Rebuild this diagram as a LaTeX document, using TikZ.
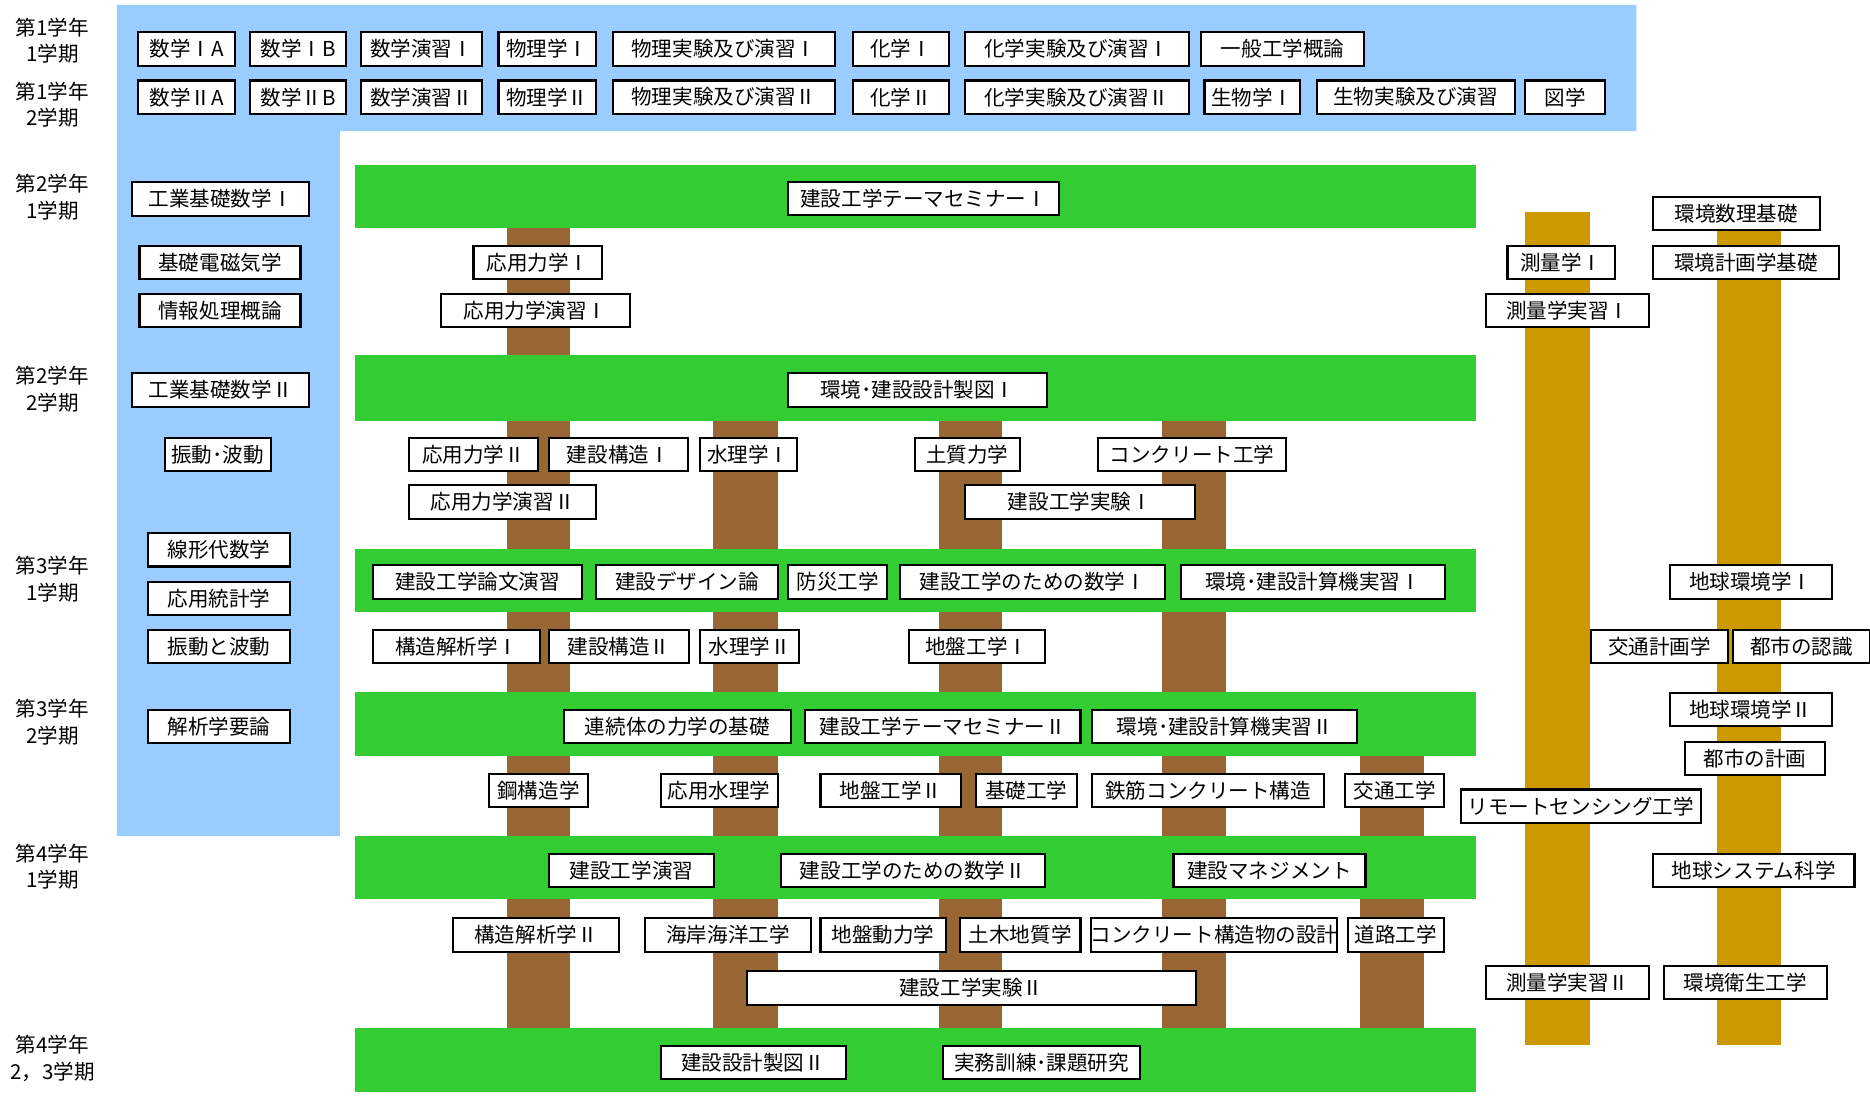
\documentclass[tikz,border=0pt]{standalone}
\usepackage{xcolor}
\usepackage{fontspec}
\newfontfamily\jpfont{Noto Sans CJK JP}
\definecolor{basicblue}{HTML}{99CCFF}
\definecolor{bandgreen}{HTML}{33CC33}
\definecolor{trunkbrown}{HTML}{996633}
\definecolor{polegold}{HTML}{CC9900}
\begin{document}
\begin{tikzpicture}[x=0.01cm, y=-0.01cm,
	course/.style={draw=black, fill=white, line width=0.5pt, inner sep=0pt, minimum height=0.28cm, font=\jpfont\fontsize{4.9}{5.9}\selectfont},
	boxw/.style={minimum width=#1*0.01cm},
	term/.style={align=center, inner sep=0pt, font=\jpfont\fontsize{4.9}{6.3}\selectfont},
	band/.style={fill=bandgreen},
	trunk/.style={fill=trunkbrown},
	pole/.style={fill=polegold}]
	\useasboundingbox (0,0) rectangle (1568,919);
	\fill[basicblue] (98,4) -- (1372,4) -- (1372,110) -- (285,110) -- (285,701) -- (98,701) -- cycle;
	\fill[trunk] (425,191) rectangle (478,862);
	\fill[trunk] (598,353) rectangle (652,862);
	\fill[trunk] (787,353) rectangle (840,862);
	\fill[trunk] (974,353) rectangle (1028,862);
	\fill[trunk] (1140,634) rectangle (1194,862);
	\fill[pole] (1279,178) rectangle (1333,876);
	\fill[pole] (1440,178) rectangle (1493,876);
	\fill[band] (298,138) rectangle (1238,191);
	\fill[band] (298,298) rectangle (1238,353);
	\fill[band] (298,460) rectangle (1238,513);
	\fill[band] (298,580) rectangle (1238,634);
	\fill[band] (298,701) rectangle (1238,754);
	\fill[band] (298,862) rectangle (1238,916);
	\node[term] (y1t1) at (44,34) {第1学年\\1学期};
	\node[term] (y1t2) at (44,88) {第1学年\\2学期};
	\node[term] (y2t1) at (44,165.5) {第2学年\\1学期};
	\node[term] (y2t2) at (44,326.5) {第2学年\\2学期};
	\node[term] (y3t1) at (44,485.5) {第3学年\\1学期};
	\node[term] (y3t2) at (44,605.5) {第3学年\\2学期};
	\node[term] (y4t1) at (44,726.5) {第4学年\\1学期};
	\node[term] (y4t23) at (44,887.5) {第4学年\\2，3学期};
	\node[course, boxw=81] (sugaku1a) at (156.5,41) {数学ⅠA};
	\node[course, boxw=80] (sugaku1b) at (250,41) {数学ⅠB};
	\node[course, boxw=101] (ensyu1) at (353.5,41) {数学演習Ⅰ};
	\node[course, boxw=82] (butsuri1) at (459,41) {物理学Ⅰ};
	\node[course, boxw=186] (butsurijk1) at (607,41) {物理実験及び演習Ⅰ};
	\node[course, boxw=81] (kagaku1) at (755.5,41) {化学Ⅰ};
	\node[course, boxw=188] (kagakujk1) at (903,41) {化学実験及び演習Ⅰ};
	\node[course, boxw=137] (ippan) at (1075.5,41) {一般工学概論};
	\node[course, boxw=81] (sugaku2a) at (156.5,81.5) {数学ⅡA};
	\node[course, boxw=80] (sugaku2b) at (250,81.5) {数学ⅡB};
	\node[course, boxw=101] (ensyu2) at (353.5,81.5) {数学演習Ⅱ};
	\node[course, boxw=82] (butsuri2) at (459,81.5) {物理学Ⅱ};
	\node[course, boxw=186] (butsurijk2) at (607,81.5) {物理実験及び演習Ⅱ};
	\node[course, boxw=81] (kagaku2) at (755.5,81.5) {化学Ⅱ};
	\node[course, boxw=188] (kagakujk2) at (903,81.5) {化学実験及び演習Ⅱ};
	\node[course, boxw=80] (seibutsu1) at (1050,81.5) {生物学Ⅰ};
	\node[course, boxw=166] (seibutsujk) at (1187,81.5) {生物実験及び演習};
	\node[course, boxw=67] (zugaku) at (1312.5,81.5) {図学};
	\node[course, boxw=148] (kiso1) at (185,167) {工業基礎数学Ⅰ};
	\node[course, boxw=135] (denji) at (184.5,220) {基礎電磁気学};
	\node[course, boxw=135] (joho) at (184.5,260.5) {情報処理概論};
	\node[course, boxw=148] (kiso2) at (185,327) {工業基礎数学Ⅱ};
	\node[course, boxw=89] (shindo) at (182.5,381) {振動･波動};
	\node[course, boxw=119] (senkei) at (183.5,461) {線形代数学};
	\node[course, boxw=119] (tokei) at (183.5,502) {応用統計学};
	\node[course, boxw=119] (hado) at (183.5,542) {振動と波動};
	\node[course, boxw=119] (kaiseki) at (183.5,609) {解析学要論};
	\node[course, boxw=227] (seminar1) at (774.5,166.5) {建設工学テーマセミナーⅠ};
	\node[course, boxw=108] (rikigaku1) at (451,220) {応用力学Ⅰ};
	\node[course, boxw=158] (rikiensyu1) at (449,260.5) {応用力学演習Ⅰ};
	\node[course, boxw=217] (seizu1) at (769.5,327) {環境･建設設計製図Ⅰ};
	\node[course, boxw=108] (rikigaku2) at (397,381) {応用力学Ⅱ};
	\node[course, boxw=117] (kozo1) at (518.5,381) {建設構造Ⅰ};
	\node[course, boxw=81] (suiri1) at (627.5,381) {水理学Ⅰ};
	\node[course, boxw=88] (doshitsu) at (811,381) {土質力学};
	\node[course, boxw=157] (concrete) at (999.5,381) {コンクリート工学};
	\node[course, boxw=157] (rikiensyu2) at (421.5,421) {応用力学演習Ⅱ};
	\node[course, boxw=193] (jikken1) at (905.5,421) {建設工学実験Ⅰ};
	\node[course, boxw=175] (ronbun) at (400.5,488) {建設工学論文演習};
	\node[course, boxw=152] (design) at (576,488) {建設デザイン論};
	\node[course, boxw=83] (bosai) at (702.5,488) {防災工学};
	\node[course, boxw=222] (tamesugaku1) at (866,488) {建設工学のための数学Ⅰ};
	\node[course, boxw=222] (keisanki1) at (1101,488) {環境･建設計算機実習Ⅰ};
	\node[course, boxw=140] (kaisekigaku1) at (383,542) {構造解析学Ⅰ};
	\node[course, boxw=118] (kozo2) at (519,542) {建設構造Ⅱ};
	\node[course, boxw=83] (suiri2) at (628.5,542) {水理学Ⅱ};
	\node[course, boxw=114] (jiban1) at (819,542) {地盤工学Ⅰ};
	\node[course, boxw=190] (renzokutai) at (568,609) {連続体の力学の基礎};
	\node[course, boxw=231] (seminar2) at (790.5,609) {建設工学テーマセミナーⅡ};
	\node[course, boxw=222] (keisanki2) at (1027,609) {環境･建設計算機実習Ⅱ};
	\node[course, boxw=83] (kokozo) at (451.5,663) {鋼構造学};
	\node[course, boxw=98] (oyosuiri) at (603,663) {応用水理学};
	\node[course, boxw=118] (jiban2) at (747,663) {地盤工学Ⅱ};
	\node[course, boxw=85] (kisokogaku) at (860.5,663) {基礎工学};
	\node[course, boxw=194] (tekkin) at (1013,663) {鉄筋コンクリート構造};
	\node[course, boxw=83] (kotsu) at (1169.5,663) {交通工学};
	\node[course, boxw=139] (kensetsuensyu) at (529.5,730) {建設工学演習};
	\node[course, boxw=221] (tamesugaku2) at (765.5,730) {建設工学のための数学Ⅱ};
	\node[course, boxw=161] (management) at (1064.5,730) {建設マネジメント};
	\node[course, boxw=139] (kaisekigaku2) at (449.5,784) {構造解析学Ⅱ};
	\node[course, boxw=139] (kaigan) at (610.5,784) {海岸海洋工学};
	\node[course, boxw=105] (jibandoriki) at (740.5,784) {地盤動力学};
	\node[course, boxw=101] (chishitsu) at (855.5,784) {土木地質学};
	\node[course, boxw=204] (concsekkei) at (1018,784) {コンクリート構造物の設計};
	\node[course, boxw=81] (doro) at (1170.5,784) {道路工学};
	\node[course, boxw=377] (jikken2) at (814.5,828.5) {建設工学実験Ⅱ};
	\node[course, boxw=155] (seizu2) at (631.5,891) {建設設計製図Ⅱ};
	\node[course, boxw=165] (jitsumu) at (873.5,891) {実務訓練･課題研究};
	\node[course, boxw=140] (suri) at (1456,179) {環境数理基礎};
	\node[course, boxw=90] (sokuryo1) at (1309,220) {測量学Ⅰ};
	\node[course, boxw=156] (keikaku) at (1464,220) {環境計画学基礎};
	\node[course, boxw=137] (sokujissyu1) at (1314.5,260.5) {測量学実習Ⅰ};
	\node[course, boxw=136] (chikyu1) at (1468,488) {地球環境学Ⅰ};
	\node[course, boxw=115] (kotsukeikaku) at (1391.5,542) {交通計画学};
	\node[course, boxw=115] (toshininshiki) at (1510.5,542) {都市の認識};
	\node[course, boxw=136] (chikyu2) at (1468,595) {地球環境学Ⅱ};
	\node[course, boxw=117] (toshikeikaku) at (1471.5,636) {都市の計画};
	\node[course, boxw=201] (remote) at (1325.5,676) {リモートセンシング工学};
	\node[course, boxw=169] (chikyusystem) at (1470.5,730) {地球システム科学};
	\node[course, boxw=137] (sokujissyu2) at (1314.5,824) {測量学実習Ⅱ};
	\node[course, boxw=137] (eisei) at (1463.5,824) {環境衛生工学};
\end{tikzpicture}
\end{document}
